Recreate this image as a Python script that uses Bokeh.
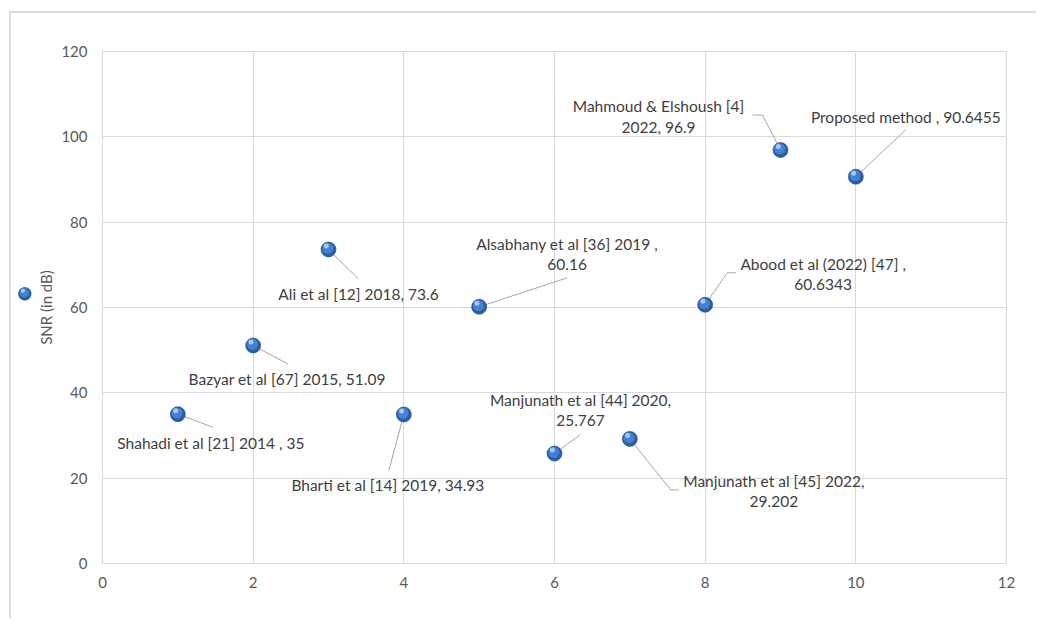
from bokeh.plotting import figure
from bokeh.layouts import row
from bokeh.models import ColumnDataSource, FixedTicker, Range1d
from bokeh.core.properties import value
from bokeh.embed import file_html
from bokeh.resources import INLINE

# ---------------- data ----------------
x_values = [1, 2, 3, 4, 5, 6, 7, 8, 9, 10]
snr_values = [35, 51.09, 73.6, 34.93, 60.16, 25.767, 29.202, 60.6343, 96.9, 90.6455]
label_lines = [
    ["Shahadi et al [21] 2014 , 35"],
    ["Bazyar et al [67] 2015, 51.09"],
    ["Ali et al [12] 2018, 73.6"],
    ["Bharti et al [14] 2019, 34.93"],
    ["Alsabhany et al [36] 2019 ,", "60.16"],
    ["Manjunath et al [44] 2020,", "25.767"],
    ["Manjunath et al [45] 2022,", "29.202"],
    ["Abood et al (2022) [47] ,", "60.6343"],
    ["Mahmoud & Elshoush [4]", "2022, 96.9"],
    ["Proposed method , 90.6455"],
]
x_ticks = [0, 2, 4, 6, 8, 10, 12]
y_ticks = [0, 20, 40, 60, 80, 100, 120]
series_name = "SNR (in dB)"

# ---------------- layout (pixels) ----------------
FRAME_W, FRAME_H = 904, 512
MB_LEFT, MB_TOP, MB_RIGHT, MB_BOTTOM = 69, 38, 30, 55
LEG_W, LEG_H = 22, FRAME_H
PX_X = FRAME_W / 12.0
PX_Y = FRAME_H / 120.0

def dx(px):
    return px / PX_X

def dy(px):
    # px positive = downward on screen
    return -px / PX_Y

# label placement: centre x offset, first line y offset (screen px)
label_dx = [33, 34, 30, -16, 88, 26, 144, 118, -122, 50]
label_dy = [28.5, 33.6, 44.5, 70.5, -63, -54, 42, -41, -44, -60]
LINE_GAP = 21
leader_paths = [
    [(0, 0), (35, 13)],
    [(0, 0), (35, 18.6)],
    [(0, 0), (30, 29.5)],
    [(0, 0), (-15, 56)],
    [(0, 0), (88, -29)],
    [(0, 0), (26, -19)],
    [(0, 0), (41, 51), (49, 51)],
    [(0, 0), (22, -32), (31, -32)],
    [(0, 0), (-18, -35), (-28, -35)],
    [(0, 0), (50, -47)],
]

SPHERE_DARK, SPHERE_EDGE = "#2a5ea8", "#1e4780"
SPHERE_MID, SPHERE_HL = "#4686d3", "#b8d3f3"

def sphere(fig, xs_, ys_, sx, sy, scale=1.0):
    """layered circles giving a shaded-ball look; sx/sy convert px to data units"""
    r = fig.scatter(x=xs_, y=ys_, size=15 * scale, fill_color=SPHERE_DARK,
                    line_color=SPHERE_EDGE, line_width=0.6)
    fig.scatter(x=[v - 0.7 * scale / sx for v in xs_], y=[v + 1.2 * scale / sy for v in ys_],
                size=11 * scale, fill_color=SPHERE_MID, line_color=None, fill_alpha=0.9)
    fig.scatter(x=[v - 2.2 * scale / sx for v in xs_], y=[v + 3.5 * scale / sy for v in ys_],
                size=5 * scale, fill_color=SPHERE_HL, line_color=None, fill_alpha=0.85)
    return r

# ---------------- main chart ----------------
p = figure(
    frame_width=FRAME_W, frame_height=FRAME_H,
    x_range=Range1d(0, 12), y_range=Range1d(0, 120),
    min_border_left=MB_LEFT, min_border_top=MB_TOP,
    min_border_right=MB_RIGHT, min_border_bottom=MB_BOTTOM,
    output_backend="svg", toolbar_location=None,
)
p.background_fill_color = "white"
p.border_fill_color = "white"
p.outline_line_color = "#d9d9d9"

GRID = "#d9d9d9"
for ax in (p.xaxis, p.yaxis):
    ax.axis_line_color = None
    ax.major_tick_line_color = None
    ax.minor_tick_line_color = None
    ax.major_tick_out = 0
    ax.major_tick_in = 0
    ax.major_label_text_font = "Lato"
    ax.major_label_text_font_size = "15px"
    ax.major_label_text_color = "#595959"
p.xaxis.ticker = FixedTicker(ticks=x_ticks)
p.yaxis.ticker = FixedTicker(ticks=y_ticks)
p.xaxis.major_label_standoff = 13
p.yaxis.major_label_standoff = 15
p.xgrid.ticker = FixedTicker(ticks=x_ticks)
p.ygrid.ticker = FixedTicker(ticks=y_ticks)
p.xgrid.grid_line_color = GRID
p.ygrid.grid_line_color = GRID

# series name as rotated title on the left
p.yaxis.axis_label = series_name
p.yaxis.axis_label_text_font = "Lato"
p.yaxis.axis_label_text_font_size = "15px"
p.yaxis.axis_label_text_font_style = "normal"
p.yaxis.axis_label_text_color = "#595959"
p.yaxis.axis_label_standoff = 3

# leader lines
xs, ys = [], []
for xv, yv, path in zip(x_values, snr_values, leader_paths):
    xs.append([xv + dx(a) for a, b in path])
    ys.append([yv + dy(b) for a, b in path])
p.multi_line(xs=xs, ys=ys, line_color="#a6a6a6", line_width=1)

# data labels
tx, ty, tt, tox, toy = [], [], [], [], []
for xv, yv, lines, ox, oy in zip(x_values, snr_values, label_lines, label_dx, label_dy):
    for i, line in enumerate(lines):
        tx.append(xv)
        ty.append(yv)
        tt.append(line)
        tox.append(ox)
        toy.append(oy + i * LINE_GAP)
lsrc = ColumnDataSource(dict(x=tx, y=ty, text=tt, xo=tox, yo=toy))
p.text(x="x", y="y", text="text", x_offset="xo", y_offset="yo", source=lsrc,
       text_align="center", text_baseline="middle", text_font=value("Lato"),
       text_font_size="15.5px", text_color="#404040")

# markers
sphere(p, x_values, snr_values, PX_X, PX_Y)

# ---------------- legend marker strip (left of the chart) ----------------
# the row aligns this strip's frame with the chart frame, so its top is the 120 line
leg = figure(frame_width=LEG_W, frame_height=LEG_H,
             x_range=Range1d(0, LEG_W), y_range=Range1d(0, LEG_H),
             x_axis_type=None, y_axis_type=None,
             min_border_left=0, min_border_right=0, min_border_top=0, min_border_bottom=0,
             output_backend="svg", toolbar_location=None)
leg.outline_line_color = None
leg.background_fill_color = "white"
leg.border_fill_color = "white"
sphere(leg, [13.3], [LEG_H - 242.3], 1.0, 1.0, scale=0.85)

layout = row(leg, p, styles={"margin-left": "9px", "margin-top": "11px",
                             "border-left": "2px solid #dcdcdc", "border-top": "2px solid #dcdcdc"})

open("out.html", "w").write(file_html(layout, INLINE))
